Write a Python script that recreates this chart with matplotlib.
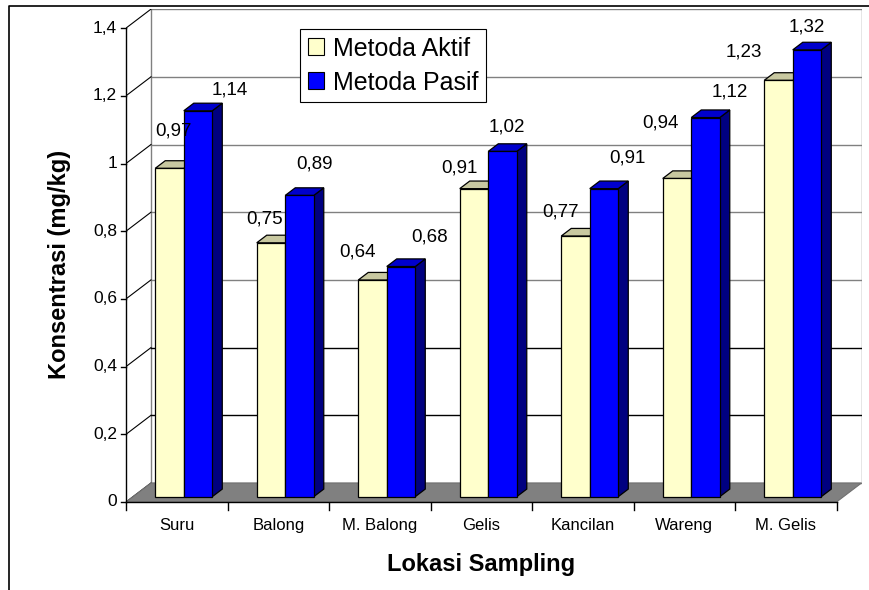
import numpy as np
import matplotlib
matplotlib.use('Agg')
import matplotlib.pyplot as plt
from matplotlib.patches import Polygon, Patch
from matplotlib.lines import Line2D

plt.rcParams['font.family'] = ['Liberation Sans', 'DejaVu Sans']

# data
lokasi = ['Suru', 'Balong', 'M. Balong', 'Gelis', 'Kancilan', 'Wareng', 'M. Gelis']
metoda_aktif = [0.97, 0.75, 0.64, 0.91, 0.77, 0.94, 1.23]
metoda_pasif = [1.14, 0.89, 0.68, 1.02, 0.91, 1.12, 1.32]
yticks = [0, 0.2, 0.4, 0.6, 0.8, 1.0, 1.2, 1.4]

# label nudges (px) relative to front-top centre of each bar, as placed by excel
nudge_aktif = [(4, -37), (-6, -24), (-15, -28), (-15, -21), (-15, -24), (-17, -55), (-35, -28)]
nudge_pasif = [(32, -21), (15, -31), (29, -29), (4, -24), (23, -31), (24, -26), (0, -23)]

W, H, DPI = 870, 590, 100
px_x, px_y = 101.5, 338.5          # px per category / per unit
ddx, ddy = 25 / px_x, 19 / px_y     # depth of the 3d box in data units
n = len(lokasi)
ymax = yticks[-1]
bw = 0.281                          # bar width
gap = (1 - 2 * bw) / 2
f, d = 0.28, 0.40                   # bar front depth / bar depth (fraction of box depth)
pt = 72 / DPI                       # px -> points

fig = plt.figure(figsize=(W / DPI, H / DPI), dpi=DPI)
ax = fig.add_axes([126 / W, (H - 502) / H, (n + ddx) * px_x / W, (ymax + ddy) * px_y / H])
ax.set_xlim(0, n + ddx)
ax.set_ylim(0, ymax + ddy)
ax.axis('off')

# outer chart frame (only left and top visible)
fig.add_artist(Line2D([9 / W, 9 / W, 1], [0, 1 - 6 / H, 1 - 6 / H], color='black', lw=1.2))

# back wall
ax.add_patch(Polygon([(ddx, ddy), (n + ddx, ddy), (n + ddx, ymax + ddy), (ddx, ymax + ddy)],
                     closed=True, fc='white', ec='#808080', lw=1, zorder=1))
for v in yticks[1:-1]:
    c = 'black' if v < 0.5 else '#808080'
    ax.plot([ddx, n + ddx], [v + ddy, v + ddy], color=c, lw=1, zorder=2)
# left wall diagonals
for v in yticks:
    ax.plot([0, ddx], [v, v + ddy], color='black', lw=0.8, zorder=2)
# floor
ax.add_patch(Polygon([(0, 0), (n, 0), (n + ddx, ddy), (ddx, ddy)], closed=True,
                     fc='#808080', ec='#707070', lw=0.8, zorder=3))
# axes lines
ax.plot([0, 0], [0, ymax], color='black', lw=1, zorder=4, clip_on=False)
ax.plot([0, n], [0, 0], color='black', lw=1, zorder=4, clip_on=False)
for v in yticks:
    ax.plot([-5 / px_x, 0], [v, v], color='black', lw=1, clip_on=False)
    ax.annotate(f'{v:g}'.replace('.', ','), (0, v), xytext=(-9 * pt, 0), textcoords='offset points',
                ha='right', va='center', fontsize=12.5, annotation_clip=False)
for i in range(n + 1):
    ax.plot([i, i], [0, -8 / px_y], color='black', lw=1, clip_on=False)
for i, name in enumerate(lokasi):
    ax.annotate(name, (i + 0.5, 0), xytext=(0, -16 * pt), textcoords='offset points',
                ha='center', va='top', fontsize=12, annotation_clip=False)


def bar3d(x, h, face, top, side, z):
    x0, y0 = x + f * ddx, f * ddy
    ex, ey = d * ddx, d * ddy
    kw = dict(closed=True, ec='black', lw=0.9, zorder=z)
    ax.add_patch(Polygon([(x0 + bw, y0), (x0 + bw + ex, y0 + ey), (x0 + bw + ex, y0 + h + ey), (x0 + bw, y0 + h)], fc=side, **kw))
    ax.add_patch(Polygon([(x0, y0 + h), (x0 + bw, y0 + h), (x0 + bw + ex, y0 + h + ey), (x0 + ex, y0 + h + ey)], fc=top, **kw))
    ax.add_patch(Polygon([(x0, y0), (x0 + bw, y0), (x0 + bw, y0 + h), (x0, y0 + h)], fc=face, **kw))
    return x0 + bw / 2, y0 + h


z = 5
for i in range(n):
    for j, (vals, nudge, cols) in enumerate([(metoda_aktif, nudge_aktif, ('#FFFFCC', '#C8C8A0', '#999966')),
                                             (metoda_pasif, nudge_pasif, ('#0000FF', '#0000CC', '#000080'))]):
        cx, cy = bar3d(i + gap + j * bw, vals[i], *cols, z)
        z += 1
        dx, dy = nudge[i]
        ax.annotate(f'{vals[i]:.2f}'.replace('.', ','), (cx, cy), xytext=(dx * pt, -dy * pt),
                    textcoords='offset points', ha='center', va='center', fontsize=13.5,
                    zorder=50, annotation_clip=False)

# legend
handles = [Patch(fc='#FFFFCC', ec='black', lw=0.8, label='Metoda Aktif'),
           Patch(fc='#0000FF', ec='black', lw=0.8, label='Metoda Pasif')]
leg = ax.legend(handles=handles, loc='upper left', bbox_to_anchor=(300 / W, 1 - 29 / H),
                bbox_transform=fig.transFigure, fancybox=False, edgecolor='black', framealpha=1,
                fontsize=18, handlelength=0.65, handleheight=0.65, handletextpad=0.36,
                borderpad=0.3, labelspacing=0.4, borderaxespad=0)
leg.get_frame().set_linewidth(0.8)
leg.set_zorder(60)

fig.text(60 / W, 1 - 264 / H, 'Konsentrasi (mg/kg)', rotation=90, ha='center', va='center',
         fontsize=17, fontweight='bold')
fig.text(481 / W, 1 - 565 / H, 'Lokasi Sampling', ha='center', va='center',
         fontsize=17, fontweight='bold')

fig.savefig('out.png', dpi=DPI)
